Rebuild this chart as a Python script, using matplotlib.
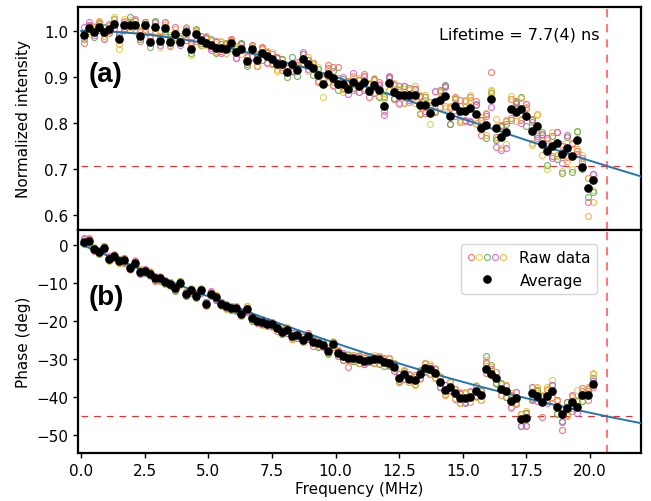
import numpy as np
import matplotlib
matplotlib.use("Agg")
import matplotlib.pyplot as plt
from matplotlib.lines import Line2D
from matplotlib.legend_handler import HandlerTuple
from matplotlib.ticker import MultipleLocator

# ---------------- data ----------------
freq_start = 0.1
freq_step = 0.2
n_points = 101
freq = [round(freq_start + freq_step * i, 2) for i in range(n_points)]

lifetime_ns = 7.7
cutoff_mhz = 1e3 / (2 * np.pi * lifetime_ns)

avg_intensity = [
    0.991, 1.006, 0.997, 1.009, 0.997, 1.004, 1.015, 0.982, 1.014, 1.014,
    1.012, 0.989, 1.012, 0.976, 1.009, 0.978, 1.007, 0.977, 0.994, 0.977,
    0.997, 0.962, 0.993, 0.981, 0.975, 0.969, 0.964, 0.964, 0.962, 0.973,
    0.955, 0.960, 0.934, 0.960, 0.937, 0.952, 0.945, 0.939, 0.928, 0.928,
    0.910, 0.928, 0.915, 0.939, 0.928, 0.919, 0.905, 0.885, 0.906, 0.899,
    0.885, 0.886, 0.875, 0.890, 0.881, 0.890, 0.870, 0.883, 0.872, 0.838,
    0.887, 0.868, 0.861, 0.861, 0.861, 0.861, 0.839, 0.839, 0.822, 0.847,
    0.851, 0.859, 0.816, 0.837, 0.827, 0.826, 0.832, 0.820, 0.789, 0.796,
    0.852, 0.789, 0.770, 0.780, 0.831, 0.824, 0.831, 0.816, 0.783, 0.793,
    0.754, 0.739, 0.751, 0.757, 0.733, 0.746, 0.730, 0.764, 0.706, 0.660,
    0.676]

avg_phase = [
    0.7, 0.9, -1.2, -1.9, -0.8, -3.7, -3.0, -4.4, -4.1, -6.1,
    -4.7, -7.2, -6.8, -7.6, -8.8, -8.8, -9.8, -10.3, -11.4, -10.0,
    -12.9, -12.0, -13.4, -12.0, -15.5, -12.9, -13.8, -15.5, -16.2, -16.6,
    -16.6, -18.2, -16.9, -19.3, -19.9, -20.3, -20.8, -20.8, -21.9, -22.8,
    -22.4, -23.9, -23.8, -24.9, -23.9, -25.5, -25.8, -26.2, -27.9, -26.1,
    -28.4, -29.3, -29.6, -29.8, -30.0, -30.5, -30.2, -30.0, -30.0, -30.7,
    -30.9, -32.0, -34.9, -34.0, -35.1, -35.5, -34.0, -32.3, -32.7, -33.7,
    -36.0, -38.1, -37.2, -39.0, -40.1, -40.1, -39.9, -38.4, -39.5, -32.5,
    -34.0, -34.9, -37.8, -38.4, -41.0, -40.1, -45.8, -45.4, -39.0, -39.7,
    -41.3, -39.7, -38.4, -42.5, -44.5, -42.8, -41.3, -42.5, -39.5, -39.5,
    -36.4]

# raw-data offsets from the average (intensity in 1e-3, phase in 0.1 deg)
red_int_off = [
    -18, 8, 12, -6, 10, -4, 2, 12, -8, 6,
    4, -10, 8, 14, -12, 10, -14, 6, -8, 12,
    -16, 14, 6, -12, 10, -6, 12, -8, 4, 10,
    -14, 12, -6, 10, -12, 14, 8, -10, 16, -6,
    12, -14, 18, -8, 10, 12, -16, 14, 20, 22,
    36, -10, 14, -18, 12, 16, -14, 10, 18, -12,
    14, -16, 12, 20, -10, 14, 18, -16, 24, -20,
    16, 22, -18, 20, 10, -22, 24, 28, -14, 20,
    60, -18, 26, 24, -20, 22, -24, 18, 26, -16,
    20, 28, -22, 24, 18, -20, 28, -24, 10, 22,
    14]
yellow_int_off = [
    6, -10, 14, 8, -12, 10, 16, -22, 12, 10,
    -8, 14, -10, 12, 8, -12, 10, 14, -8, 6,
    12, -14, 10, 8, -6, 12, -10, 14, 8, -12,
    10, 6, 12, -14, 10, 8, -12, 16, -10, 12,
    14, -16, 10, 12, -14, 8, 16, -28, 12, -10,
    14, -18, 16, 12, -14, 10, 18, -16, 12, 22,
    -14, 18, -20, 14, 16, -18, 22, 12, -24, 20,
    18, -26, 22, 16, -20, 24, 30, -22, 18, 26,
    20, -24, 22, -26, 28, 18, -22, 26, -30, 24,
    20, -38, 22, -28, -36, 24, -30, 18, 26, 22,
    -20]
green_int_off = [
    -8, 4, -10, 6, 12, -8, 10, 6, -12, 16,
    10, -6, 8, -10, 12, 6, -8, 10, -12, 8,
    6, -10, 12, -8, 10, 14, -12, 8, 12, -10,
    6, 14, -10, 8, 12, -14, 10, -8, 14, 12,
    -10, 16, -12, 10, 8, -14, 12, 10, -16, 14,
    -12, 10, 16, -14, 12, -18, 14, 12, -16, 18,
    12, -14, 20, -18, 16, 14, -20, 18, 16, -22,
    20, 24, -18, 16, -24, 22, -30, 20, 18, -28,
    14, -26, 24, 18, -24, 20, 26, -22, 24, -20,
    26, -30, 22, -34, -40, 24, -36, 20, -6, -20,
    -25]
magenta_int_off = [
    18, 14, -6, 10, -14, 12, -8, 10, 6, -12,
    14, 8, -14, 12, 10, -8, 12, -10, 14, -8,
    10, 12, -14, 8, 12, -10, 14, -12, 10, 8,
    -14, 12, 10, -16, 8, 12, -14, 10, 14, -12,
    10, -14, 12, 16, -10, 12, -14, 10, 14, -16,
    12, 14, -12, 18, -14, 12, 16, -18, 10, -20,
    16, 14, -18, 20, -16, 14, 20, -12, 18, 22,
    -16, 20, 18, -22, 24, -20, -28, 22, 18, 24,
    -16, -40, -28, -34, 22, 24, -30, 26, 20, -24,
    22, 30, -26, 24, -20, 28, 26, -30, 18, -30,
    14]
orange_int_off = [
    4, -6, 8, 12, -8, 6, 10, -10, 8, -6,
    12, 10, -8, 10, -10, 12, 6, -8, 10, 12,
    -10, 8, 6, -12, 14, 10, -8, 12, -10, 6,
    12, -10, 14, 8, -12, 10, 12, -8, -14, 10,
    12, -12, 14, -10, 16, 12, -14, 10, 12, -18,
    14, -12, 16, 10, 18, -14, 12, 16, -12, 14,
    -16, 20, 14, -18, 12, 20, -16, 22, 18, -20,
    16, -22, 20, 18, -24, 22, 18, -20, 24, -22,
    18, 20, -24, 26, 22, -20, 24, 20, -26, 28,
    -22, 24, 30, -26, 22, -28, 24, -20, 18, -62,
    -46]

red_ph_off = [
    9, 7, -4, 3, -5, 4, -3, 5, -6, 3,
    -4, 6, -3, 5, -6, 4, 3, -5, 6, -4,
    5, -6, 4, -5, 6, 3, -6, 5, -4, 6,
    -5, 4, -8, 5, -6, 7, -5, 6, -7, 4,
    6, -7, 5, -6, 8, -10, 9, 6, 8, -7,
    6, -8, -25, -6, 8, -9, 7, 6, -12, 8,
    -7, 9, -8, 10, -9, 8, 11, -10, 9, -12,
    10, -11, 12, -14, 10, 12, -13, 14, -12, -11,
    10, -14, 12, -16, 15, -13, 14, 12, -15, 16,
    -38, 15, -14, 18, -40, 16, -14, 15, 12, -12,
    -10]
yellow_ph_off = [
    -3, 5, 6, -4, 5, -6, 4, -3, 6, -5,
    7, -4, 5, -6, 3, 7, -5, 4, -3, 6,
    -5, 7, -4, 6, -5, 4, 7, -6, 5, -4,
    6, -5, 7, -4, 6, -7, 5, -6, 8, -5,
    7, -6, 8, -7, 6, 9, -7, 8, -6, 9,
    -8, 7, 9, -8, 10, -7, 9, 11, -9, 8,
    10, -9, 12, 11, -10, 9, -12, 11, 13, -10,
    14, -12, 11, -13, 15, 12, -14, 16, -13, 18,
    14, -16, 13, 15, -17, 16, 14, -18, 16, 22,
    18, 24, 30, -16, 18, -20, 17, 45, -15, 20,
    28]
green_ph_off = [
    -4, -5, 4, -6, 5, 3, -5, 6, -4, 5,
    -6, 4, -5, 3, -4, -6, 5, -3, -7, 4,
    -6, 5, -7, 4, 6, -5, -8, 4, 6, -5,
    -7, 6, 4, -8, 5, -6, 7, -5, 4, -7,
    -8, 7, -6, 8, -7, 6, -9, 7, -8, 6,
    7, -9, 8, -7, -10, 8, -6, -9, 8, -10,
    -9, 8, -10, -12, 9, -11, 10, -9, -12, 11,
    -12, 13, -10, 12, -14, -11, 13, -12, 11, 33,
    25, -13, 15, -14, 12, -16, -18, 14, -16, 13,
    15, -14, 16, -18, -20, 15, -22, 14, -16, 12,
    15]
magenta_ph_off = [
    10, 8, -3, 5, -4, 6, -5, 4, 5, -4,
    5, -6, 4, -4, 6, -5, 4, 6, -5, 3,
    6, -4, 5, -6, 4, 7, -5, 6, -4, 5,
    -6, 7, -5, 6, 8, -6, 7, -5, 6, 5,
    -7, 8, -6, 7, -9, 6, 8, -7, 9, -8,
    -9, 8, -7, 9, 7, -8, 10, -9, 8, 9,
    11, -10, 9, -11, 12, 14, -10, 12, -11, 10,
    -12, 14, -11, 13, 12, -14, 15, -12, 14, 16,
    15, 14, -16, 13, -15, 14, -18, -20, 17, -14,
    16, -18, 15, 17, -16, -18, 18, -16, 19, 17,
    8]
orange_ph_off = [
    -2, 4, 3, -5, 4, -4, 6, -5, 3, 6,
    -5, 7, -4, 6, 5, -4, -6, 5, 4, -6,
    7, -5, 6, 4, -6, 5, 6, -4, -7, 6,
    5, -6, 8, 6, -5, 7, 6, -7, 5, 8,
    6, -8, 7, 9, -6, 8, -7, 9, 7, -8,
    9, 7, -10, 8, -9, 10, 8, -10, 9, 7,
    12, 10, -9, 11, 13, -12, 10, 12, -11, 13,
    15, -12, 14, 11, -13, 15, 12, -14, 13, 24,
    19, 14, -15, 17, 20, -16, 15, 17, -13, 25,
    14, 20, -17, 15, 16, -18, 14, 17, 20, 21,
    26]

raw_colors = ["#ff5a5a", "#d8cc40", "#55aa45", "#d855d8", "#ffaa2a"]
raw_int_offsets = [red_int_off, yellow_int_off, green_int_off, magenta_int_off, orange_int_off]
raw_ph_offsets = [red_ph_off, yellow_ph_off, green_ph_off, magenta_ph_off, orange_ph_off]

# ---------------- figure ----------------
plt.rcParams["font.family"] = ["DejaVu Sans"]
plt.rcParams["font.size"] = 11

fig, (ax1, ax2) = plt.subplots(2, 1, sharex=True, figsize=(6.51, 5.02), dpi=100)
fig.subplots_adjust(left=0.12, right=0.9846, top=0.985, bottom=0.0956, hspace=0)

f = np.array(freq)
fit_f = np.linspace(0, 22, 300)
w = 2 * np.pi * fit_f * 1e6 * lifetime_ns * 1e-9
fit_amp = 1 / np.sqrt(1 + w ** 2)
fit_phase = -np.degrees(np.arctan(w))

raw_handles = []
for col, oi, op in zip(raw_colors, raw_int_offsets, raw_ph_offsets):
    ax1.plot(f, np.array(avg_intensity) + np.array(oi) * 1e-3, 'o', ms=4.3,
             mfc='none', mec=col, mew=0.8, alpha=0.85, zorder=2)
    ax2.plot(f, np.array(avg_phase) + np.array(op) * 0.1, 'o', ms=4.3,
             mfc='none', mec=col, mew=0.8, alpha=0.85, zorder=2)
    raw_handles.append(Line2D([], [], ls='none', marker='o', ms=4.3, mfc='none',
                              mec=col, mew=0.8, alpha=0.85))

ax1.plot(fit_f, fit_amp, color='#1f77b4', lw=1.4, zorder=3)
ax2.plot(fit_f, fit_phase, color='#1f77b4', lw=1.4, zorder=3)
ax1.plot(f, avg_intensity, 'o', color='black', ms=5.2, zorder=4)
avg_handle, = ax2.plot(f, avg_phase, 'o', color='black', ms=5.2, zorder=4)

ax1.hlines(1 / np.sqrt(2), 0, 21.65, colors='red', lw=0.8, alpha=0.85,
           linestyles=(0, (6, 5.4)), zorder=1)
ax2.hlines(-45, 0, 21.65, colors='red', lw=0.8, alpha=0.85,
           linestyles=(0, (6, 5.4)), zorder=1)
for ax in (ax1, ax2):
    ax.axvline(cutoff_mhz, color='#ff5555', lw=1.5, alpha=0.8,
               ls=(0, (3.9, 3.4)), zorder=1)
    for s in ax.spines.values():
        s.set_linewidth(1.6)
    ax.tick_params(width=1.0, length=3.5, labelsize=11)

ax1.set_xlim(-0.12, 22.0)
ax1.set_ylim(0.569, 1.053)
ax2.set_ylim(-54.6, 3.9)
ax2.xaxis.set_major_locator(MultipleLocator(2.5))
ax1.yaxis.set_major_locator(MultipleLocator(0.1))
ax2.yaxis.set_major_locator(MultipleLocator(10))

ax1.set_ylabel("Normalized intensity", fontsize=11)
ax2.set_ylabel("Phase (deg)", fontsize=11)
ax2.set_xlabel("Frequency (MHz)", fontsize=11, labelpad=2)
fig.align_ylabels([ax1, ax2])

ax1.text(0.018, 0.70, "(a)", transform=ax1.transAxes, fontsize=20,
         fontweight='bold', family='Liberation Sans', va='center', ha='left')
ax2.text(0.018, 0.70, "(b)", transform=ax2.transAxes, fontsize=20,
         fontweight='bold', family='Liberation Sans', va='center', ha='left')
ax1.text(0.927, 0.877, "Lifetime = 7.7(4) ns", transform=ax1.transAxes,
         fontsize=11.5, ha='right', va='center')

ax2.legend([tuple(raw_handles), avg_handle], ["Raw data", "Average"],
           handler_map={tuple: HandlerTuple(ndivide=None, pad=0)},
           loc='upper right', bbox_to_anchor=(0.922, 0.937), borderaxespad=0,
           fontsize=11, handlelength=2.6, framealpha=0.8)

fig.savefig("out.png", dpi=100)
